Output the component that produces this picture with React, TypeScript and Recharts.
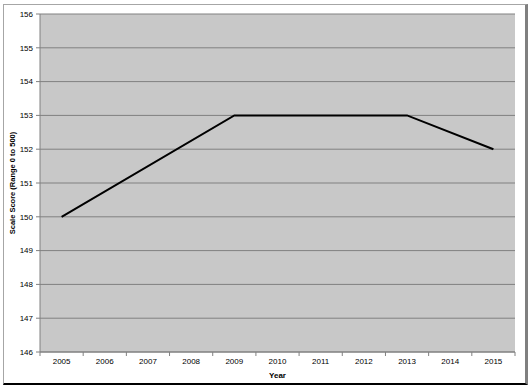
import React from 'react';
import { LineChart, Line, XAxis, YAxis, CartesianGrid } from 'recharts';

const years = ['2005', '2006', '2007', '2008', '2009', '2010', '2011', '2012', '2013', '2014', '2015'];
// only assessment years have scores; the line is drawn straight across the gaps
const scores: (number | null)[] = [150, null, null, null, 153, null, 153, null, 153, null, 152];
const yTicks = [146, 147, 148, 149, 150, 151, 152, 153, 154, 155, 156];

const data = years.map((year, i) => ({ year, score: scores[i] }));

const font = 'Liberation Sans, Arial, sans-serif';
const tickStyle = { fontSize: 8, fill: '#000', fontFamily: font };

// year label plus tick marks on the band edges (Excel style, between categories)
function YearTick(props: any) {
  const { x, y, payload, index, visibleTicksCount } = props;
  const half = payload.offset || 0;
  const axisY = y - 8;
  return (
    <g>
      <line x1={x - half} x2={x - half} y1={axisY} y2={axisY + 4} stroke="#808080" />
      {index === visibleTicksCount - 1 && (
        <line x1={x + half} x2={x + half} y1={axisY} y2={axisY + 4} stroke="#808080" />
      )}
      <text x={x} y={y - 2} dy="0.71em" textAnchor="middle" {...tickStyle}>
        {payload.value}
      </text>
    </g>
  );
}

export default function App() {
  return (
    <div style={{ position: 'absolute', left: 0, top: 0, width: 532, height: 390, background: '#fff' }}>
      <div
        style={{
          position: 'absolute',
          left: 3,
          top: 4,
          width: 521,
          height: 378,
          borderTop: '1px solid #a6a6a6',
          borderLeft: '1px solid #a6a6a6',
          borderRight: '3px solid #808080',
          borderBottom: '2px solid #000',
        }}
      />
      <div style={{ position: 'absolute', left: 0, top: 0 }}>
        <LineChart width={532} height={390} data={data} margin={{ top: 14, right: 17, bottom: 0, left: 0 }}>
          <CartesianGrid vertical={false} stroke="#808080" fill="#c8c8c8" fillOpacity={1} />
          <XAxis
            dataKey="year"
            type="category"
            scale="band"
            height={38}
            stroke="#808080"
            tickLine={false}
            tickSize={0}
            tickMargin={8}
            tick={<YearTick />}
            interval={0}
            label={{ value: 'Year', position: 'insideBottom', offset: 12, style: { fontSize: 8, fontWeight: 'bold', fill: '#000', fontFamily: font } }}
          />
          <YAxis
            domain={[146, 156]}
            ticks={yTicks}
            width={40}
            tickSize={4}
            stroke="#808080"
            tick={tickStyle}
            tickMargin={3}
            interval={0}
            label={{ value: 'Scale Score (Range 0 to 500)', angle: -90, position: 'insideLeft', offset: 12, textAnchor: 'middle', style: { fontSize: 7.5, fontWeight: 'bold', fill: '#000', fontFamily: font, textAnchor: 'middle' } }}
          />
          <Line
            dataKey="score"
            stroke="#000"
            strokeWidth={2}
            dot={false}
            connectNulls
            isAnimationActive={false}
          />
        </LineChart>
      </div>
    </div>
  );
}
